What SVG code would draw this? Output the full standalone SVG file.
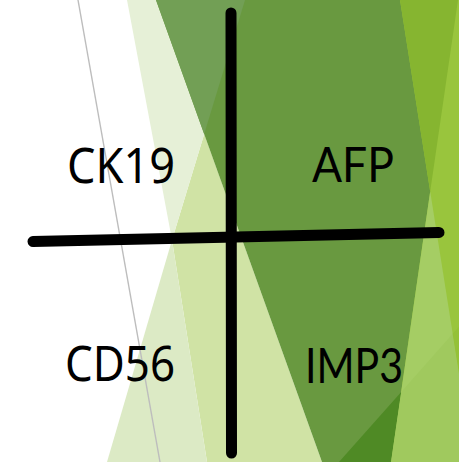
<svg xmlns="http://www.w3.org/2000/svg" width="459" height="462" viewBox="0 0 459 462">
  <style>
    .axis { stroke: #000; stroke-width: 11; stroke-linecap: round; fill: none; }
    .lbl-a { font-family: "Noto Sans", "Open Sans", "DejaVu Sans", sans-serif; font-size: 50px; fill: #000; }
    .lbl-b { font-family: "Lato", "Liberation Sans", sans-serif; font-size: 48px; fill: #000; }
  </style>

  <!-- faceted background -->
  <g id="backdrop">
    <rect x="0" y="0" width="459" height="462" fill="#ffffff"/>
    <polygon points="204.2,134.1 172,240 207,462 322,462" fill="#d0e3a5"/>
    <polygon points="127,0 245,0 172,240" fill="#e6f0d7"/>
    <polygon points="172,240 107,462 207,462" fill="#dceac5"/>
    <polygon points="156,0 460,0 460,462 322,462" fill="#699940"/>
    <polygon points="156,0 245,0 204.2,134.1" fill="#729f55"/>
    <polygon points="400,0 460,0 460,462 391,462 430.2,191.4" fill="#99c53d"/>
    <polygon points="400,0 458,0 430.2,191.4" fill="#86b530"/>
    <polygon points="430.2,191.4 460,379.7 460,462 391,462" fill="#a5cd64"/>
    <polygon points="339,462 401.2,391.9 391,462" fill="#4f8a25"/>
    <polygon points="401.2,391.9 452.7,333.8 460,379.7 460,462 391,462" fill="#a0c95e"/>
    <polygon points="452.7,333.8 460,325.6 460,379.7" fill="#94c138"/>
    <line x1="78" y1="0" x2="160" y2="462" stroke="#bdbdbd" stroke-width="1.4"/>
  </g>

  <!-- quadrant axes -->
  <g id="axes">
    <line class="axis" x1="231" y1="13" x2="231.5" y2="453"/>
    <line class="axis" x1="33" y1="241.5" x2="439" y2="232.5"/>
  </g>

  <g id="label-ck19">
    <text class="lbl-a" x="67" y="183" textLength="108" lengthAdjust="spacingAndGlyphs">CK19</text>
  </g>
  <g id="label-afp">
    <text class="lbl-b" x="312" y="182" textLength="82" lengthAdjust="spacingAndGlyphs">AFP</text>
  </g>
  <g id="label-cd56">
    <text class="lbl-a" x="65" y="381" textLength="110" lengthAdjust="spacingAndGlyphs">CD56</text>
  </g>
  <g id="label-imp3">
    <text class="lbl-b" x="305" y="383" textLength="98" lengthAdjust="spacingAndGlyphs">IMP3</text>
  </g>
</svg>
